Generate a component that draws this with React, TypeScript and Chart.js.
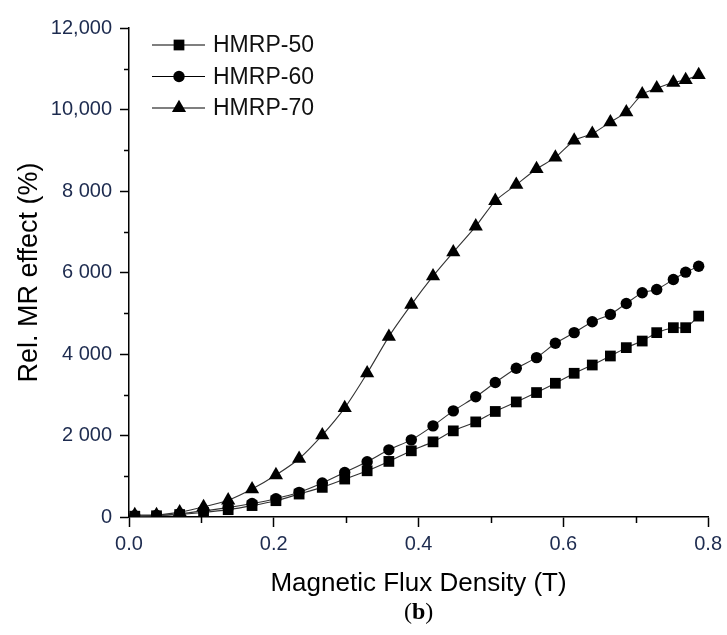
import React, { useEffect, useRef } from "react";
import { Chart, registerables } from "chart.js";

Chart.register(...registerables);

// Magnetic flux density (T) of the measured points
const fluxDensity = [
  0.008, 0.038, 0.07, 0.103, 0.137, 0.17, 0.203, 0.235, 0.267, 0.298, 0.329, 0.359, 0.39, 0.42, 0.448,
  0.479, 0.506, 0.535, 0.563, 0.589, 0.615, 0.64, 0.665, 0.687, 0.709, 0.729, 0.752, 0.769, 0.787,
];
// Rel. MR effect (%)
const hmrp50 = [
  20, 30, 60, 110, 180, 280, 400, 563, 727, 931, 1134, 1364, 1624, 1844, 2114,
  2334, 2590, 2824, 3054, 3282, 3527, 3730, 3951, 4156, 4318, 4524, 4646, 4646, 4930,
];
const hmrp60 = [
  30, 40, 80, 150, 230, 330, 450, 605, 833, 1094, 1355, 1648, 1893, 2236, 2604,
  2950, 3299, 3649, 3911, 4262, 4524, 4793, 4972, 5241, 5503, 5584, 5829, 6008, 6155,
];
const hmrp70 = [
  50, 50, 120, 245, 410, 685, 1030, 1430, 2008, 2677, 3527, 4426, 5210, 5910, 6498,
  7134, 7760, 8156, 8540, 8824, 9241, 9405, 9691, 9936, 10377, 10524, 10661, 10727, 10850,
];
const seriesNames = ["HMRP-50", "HMRP-60", "HMRP-70"];
const yTickLabels = ["0", "2 000", "4 000", "6 000", "8 000", "10,000", "12,000"];
const xTickLabels = ["0.0", "0.2", "0.4", "0.6", "0.8"];
const yMinorTicks = [1000, 3000, 5000, 7000, 9000, 11000];
const xMinorTicks = [0.1, 0.3, 0.5, 0.7];
const xTitle = "Magnetic Flux Density (T)";
const yTitle = "Rel. MR effect (%)";
const panelLabel = "b";

const TICK_COLOR = "#1d2b4f";
const LINE_COLOR = "#333333";

function drawMarker(ctx: CanvasRenderingContext2D, style: string, x: number, y: number, r: number) {
  ctx.beginPath();
  if (style === "rect") {
    const s = Math.SQRT1_2 * r;
    ctx.rect(x - s, y - s, 2 * s, 2 * s);
  } else if (style === "circle") {
    ctx.arc(x, y, r, 0, Math.PI * 2);
  } else {
    const w = r * Math.sin((2 * Math.PI) / 3);
    ctx.moveTo(x, y - r);
    ctx.lineTo(x + w, y + r / 2);
    ctx.lineTo(x - w, y + r / 2);
    ctx.closePath();
  }
  ctx.fill();
}

const extrasPlugin = {
  id: "extras",
  afterDraw(chart: any) {
    const { ctx, chartArea, scales } = chart;
    ctx.save();
    // minor ticks
    ctx.strokeStyle = "#000";
    ctx.lineWidth = 1.5;
    ctx.beginPath();
    for (const v of yMinorTicks) {
      const py = Math.round(scales.y.getPixelForValue(v)) + 0.5;
      ctx.moveTo(chartArea.left - 5, py);
      ctx.lineTo(chartArea.left, py);
    }
    for (const v of xMinorTicks) {
      const px = Math.round(scales.x.getPixelForValue(v)) + 0.5;
      ctx.moveTo(px, chartArea.bottom);
      ctx.lineTo(px, chartArea.bottom + 6);
    }
    ctx.stroke();

    // legend
    const lx = chartArea.left + 23;
    const ly = chartArea.top + 17;
    chart.data.datasets.forEach((ds: any, i: number) => {
      const y = ly + i * 31.5;
      ctx.strokeStyle = "#000";
      ctx.lineWidth = 1.2;
      ctx.beginPath();
      ctx.moveTo(lx, y);
      ctx.lineTo(lx + 53, y);
      ctx.stroke();
      ctx.fillStyle = "#000";
      drawMarker(ctx, ds.pointStyle, lx + 27, y, ds.pointRadius);
      ctx.font = '23px "Liberation Sans", Arial, sans-serif';
      ctx.textBaseline = "middle";
      ctx.textAlign = "left";
      ctx.fillStyle = "#111";
      ctx.fillText(ds.label, lx + 61, y + 1);
    });

    // panel label (b)
    const cx = (chartArea.left + chartArea.right) / 2;
    const py = 613;
    const reg = '24px "Liberation Serif", "Times New Roman", serif';
    const bold = 'bold 24px "Liberation Serif", "Times New Roman", serif';
    ctx.fillStyle = "#000";
    ctx.textBaseline = "middle";
    ctx.textAlign = "left";
    ctx.font = reg;
    const wOpen = ctx.measureText("(").width;
    const wClose = ctx.measureText(")").width;
    ctx.font = bold;
    const wB = ctx.measureText(panelLabel).width;
    const x0 = cx - (wOpen + wB + wClose) / 2;
    ctx.font = reg;
    ctx.fillText("(", x0, py);
    ctx.font = bold;
    ctx.fillText(panelLabel, x0 + wOpen, py);
    ctx.font = reg;
    ctx.fillText(")", x0 + wOpen + wB, py);
    ctx.restore();
  },
};

export default function App() {
  const canvasRef = useRef<HTMLCanvasElement | null>(null);

  useEffect(() => {
    if (!canvasRef.current) return;
    const mk = (vals: number[]) => fluxDensity.map((x, i) => ({ x, y: vals[i] }));
    const styles = ["rect", "circle", "triangle"];
    const radii = [7.6, 5.7, 8.2];
    const values = [hmrp50, hmrp60, hmrp70];
    const chart = new Chart(canvasRef.current, {
      type: "line",
      data: {
        datasets: values.map((vals, i) => ({
          label: seriesNames[i],
          data: mk(vals),
          borderColor: LINE_COLOR,
          borderWidth: 1.1,
          backgroundColor: "#000",
          pointBackgroundColor: "#000",
          pointBorderColor: "#000",
          pointBorderWidth: 0,
          pointStyle: styles[i],
          pointRadius: radii[i],
          tension: 0.2,
          fill: false,
        })),
      },
      options: {
        animation: false,
        responsive: false,
        layout: { padding: { left: 0, top: 28, right: 16, bottom: 36 } },
        plugins: { legend: { display: false }, tooltip: { enabled: false } },
        scales: {
          x: {
            type: "linear",
            min: 0,
            max: 0.8,
            afterFit: (s: any) => {
              s.height = 82;
            },
            ticks: {
              stepSize: 0.2,
              padding: 5,
              color: TICK_COLOR,
              font: { family: '"Liberation Sans", Arial, sans-serif', size: 20 },
              callback: (_v: any, i: number) => xTickLabels[i],
            },
            grid: { display: true, drawOnChartArea: false, drawTicks: true, tickLength: 10, tickColor: "#000", tickWidth: 1.5 },
            border: { display: true, color: "#000", width: 1.5 },
            title: {
              display: true,
              text: xTitle,
              color: "#000",
              padding: { top: 0, bottom: 0 },
              font: { family: '"Liberation Sans", Arial, sans-serif', size: 26 },
            },
          },
          y: {
            type: "linear",
            min: 0,
            max: 12000,
            afterFit: (s: any) => {
              s.width = 129;
            },
            ticks: {
              stepSize: 2000,
              padding: 8,
              color: TICK_COLOR,
              font: { family: '"Liberation Sans", Arial, sans-serif', size: 20 },
              callback: (_v: any, i: number) => yTickLabels[i],
            },
            grid: { display: true, drawOnChartArea: false, drawTicks: true, tickLength: 9, tickColor: "#000", tickWidth: 1.5 },
            border: { display: true, color: "#000", width: 1.5 },
            title: {
              display: true,
              text: yTitle,
              color: "#000",
              padding: { top: 13, bottom: 0 },
              font: { family: '"Liberation Sans", Arial, sans-serif', size: 27 },
            },
          },
        },
      },
      plugins: [extrasPlugin],
    });
    return () => chart.destroy();
  }, []);

  return (
    <div style={{ position: "fixed", left: 0, top: 0, width: 727, height: 635, background: "#fff" }}>
      <canvas ref={canvasRef} width={727} height={635} style={{ display: "block" }} />
    </div>
  );
}
